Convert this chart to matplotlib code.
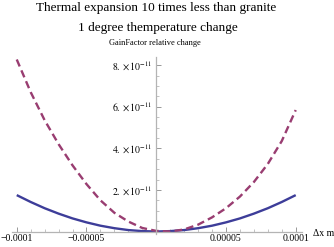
import numpy as np
import matplotlib
matplotlib.use('Agg')
from matplotlib import pyplot as plt
from matplotlib.ticker import MultipleLocator

plt.rcParams['font.family'] = ['Liberation Serif', 'DejaVu Serif']
plt.rcParams['mathtext.fontset'] = 'stix'

# Δx in metres (read every 1e-5)
dx = [-1e-4, -9e-5, -8e-5, -7e-5, -6e-5, -5e-5, -4e-5, -3e-5, -2e-5, -1e-5, 0.0,
      1e-5, 2e-5, 3e-5, 4e-5, 5e-5, 6e-5, 7e-5, 8e-5, 9e-5, 1e-4]

# GainFactor relative change, units of 1e-11
solid_vals = [1.75, 1.42, 1.12, 0.86, 0.63, 0.44, 0.28, 0.16, 0.07, 0.02, 0.0,
              0.02, 0.07, 0.16, 0.28, 0.44, 0.63, 0.86, 1.12, 1.42, 1.75]
dashed_vals = [8.27, 6.70, 5.35, 4.20, 3.18, 2.28, 1.50, 0.90, 0.48, 0.17, 0.03,
               0.0, 0.10, 0.33, 0.68, 1.12, 1.68, 2.38, 3.25, 4.35, 5.84]

xticks = [-1e-4, -5e-5, 5e-5, 1e-4]
xtick_labels = ['\u22120.0001', '\u22120.00005', '0.00005', '0.0001']
yticks = [2e-11, 4e-11, 6e-11, 8e-11]
ytick_labels = [r'$2.\times10^{-11}$', r'$4.\times10^{-11}$',
                r'$6.\times10^{-11}$', r'$8.\times10^{-11}$']

fig = plt.figure(figsize=(3.34, 2.47), dpi=100)
ax = fig.add_axes([12 / 334, (247 - 233.6) / 247, 290 / 334, 176.6 / 247])

ax.plot(dx, np.array(solid_vals) * 1e-11, color='#3d3d99', lw=1.7,
        solid_capstyle='butt')
ax.plot(dx, np.array(dashed_vals) * 1e-11, color='#993d71', lw=1.7,
        dashes=(3.2, 1.8))

ax.set_xlim(-1.034e-4, 1.045e-4)
ax.set_ylim(-0.1e-11, 8.39e-11)

gray = '#b4b4b4'
for s in ['top', 'right']:
    ax.spines[s].set_visible(False)
ax.spines['left'].set_position(('data', 0))
ax.spines['bottom'].set_position(('data', 0))
for s in ['left', 'bottom']:
    ax.spines[s].set_color(gray)
    ax.spines[s].set_linewidth(0.9)

ax.set_xticks(xticks)
ax.set_xticklabels(xtick_labels)
ax.set_yticks(yticks)
ax.set_yticklabels(ytick_labels)
ax.xaxis.set_minor_locator(MultipleLocator(1e-5))
ax.yaxis.set_minor_locator(MultipleLocator(0.5e-11))
ax.tick_params(which='major', direction='in', length=3.5, width=0.6,
               color='#888888', labelsize=7, pad=2)
ax.tick_params(which='minor', direction='in', length=2, width=0.5,
               color='#aaaaaa')
ax.tick_params(axis='y', pad=3)
ax.set_facecolor('none')

fig.text(156 / 334, 1 - 8 / 247, 'Thermal expansion 10 times less than granite',
         ha='center', va='center', fontsize=9.5)
fig.text(158 / 334, 1 - 28 / 247, '1 degree themperature change',
         ha='center', va='center', fontsize=9.5)
fig.text(155 / 334, 1 - 43 / 247, 'GainFactor relative change',
         ha='center', va='center', fontsize=6)
fig.text(313 / 334, 1 - 233 / 247, 'Δx m', ha='left', va='center', fontsize=7)

fig.savefig('out.png', dpi=100)
